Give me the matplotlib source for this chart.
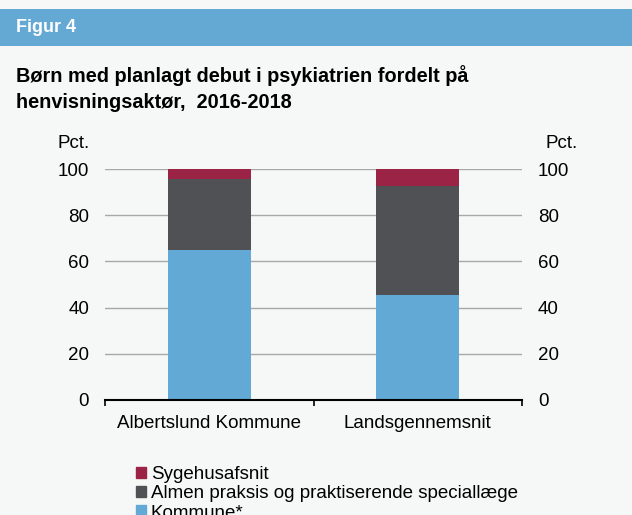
import matplotlib.pyplot as plt
from matplotlib.patches import Rectangle, Patch

plt.rcParams['font.family'] = ['Liberation Sans', 'DejaVu Sans']

# data
categories = ["Albertslund Kommune", "Landsgennemsnit"]
kommune = [65.0, 45.5]
almen = [30.5, 47.0]
sygehus = [4.5, 7.5]
series_names = ["Kommune*", "Almen praksis og praktiserende speciallæge", "Sygehusafsnit"]
yticks = [0, 20, 40, 60, 80, 100]

c_kom = "#62AAD5"
c_alm = "#505155"
c_syg = "#9B2345"
bg = "#F6F8F8"

W, H = 632, 515
fig = plt.figure(figsize=(W / 100, H / 100), dpi=100, facecolor=bg)

# header band
fig.patches.append(Rectangle((0, 1 - 45.5 / H), 1, 36.5 / H, transform=fig.transFigure,
                             facecolor="#63A9D4", edgecolor="none", zorder=0))
fig.text(16 / W, 1 - 28 / H, "Figur 4", color="white", fontsize=13, fontweight="bold",
         va="center", ha="left")
fig.text(16 / W, 1 - 76 / H, "Børn med planlagt debut i psykiatrien fordelt på",
         fontsize=14.3, fontweight="bold", va="center", ha="left")
fig.text(16 / W, 1 - 102 / H, "henvisningsaktør,  2016-2018",
         fontsize=14.3, fontweight="bold", va="center", ha="left")

ax = fig.add_axes([105 / W, 1 - 400 / H, 417 / W, 231 / H])
ax.set_facecolor(bg)
x = range(len(categories))
bottom2 = [a + b for a, b in zip(kommune, almen)]
ax.bar(x, kommune, width=0.4, color=c_kom, zorder=2)
ax.bar(x, almen, width=0.4, bottom=kommune, color=c_alm, zorder=2)
ax.bar(x, sygehus, width=0.4, bottom=bottom2, color=c_syg, zorder=2)

ax.set_xlim(-0.5, 1.5)
ax.set_ylim(0, 100)
ax.set_yticks(yticks)
ax.yaxis.grid(True, color="#A8A8A8", linewidth=1, zorder=0)
ax.tick_params(axis="y", length=0, pad=11.5, labelsize=13.5)
for s in ["top", "right", "left"]:
    ax.spines[s].set_visible(False)
ax.spines["bottom"].set_linewidth(1.5)
ax.spines["bottom"].set_zorder(3)

ax.set_xticks(list(x))
ax.set_xticklabels(categories, fontsize=13.5)
ax.tick_params(axis="x", length=0, pad=11)
ax.set_xticks([-0.5, 0.5, 1.5], minor=True)
ax.tick_params(axis="x", which="minor", length=4, width=1.2, direction="out")

ax2 = ax.twinx()
ax2.set_ylim(0, 100)
ax2.set_yticks(yticks)
ax2.tick_params(axis="y", length=0, pad=11.5, labelsize=13.5)
for s in ax2.spines.values():
    s.set_visible(False)

fig.text(73.5 / W, 1 - 144 / H, "Pct.", fontsize=13.5, ha="center", va="center")
fig.text(562 / W, 1 - 144 / H, "Pct.", fontsize=13.5, ha="center", va="center")

handles = [Patch(color=c_syg), Patch(color=c_alm), Patch(color=c_kom)]
fig.legend(handles, series_names[::-1], loc="upper left",
           bbox_to_anchor=(136 / W, 1 - 466 / H), frameon=False, fontsize=13.5,
           handlelength=0.55, handleheight=0.55, handletextpad=0.25,
           labelspacing=0.12, borderpad=0, borderaxespad=0)

fig.savefig("out.png", dpi=100, facecolor=bg)
